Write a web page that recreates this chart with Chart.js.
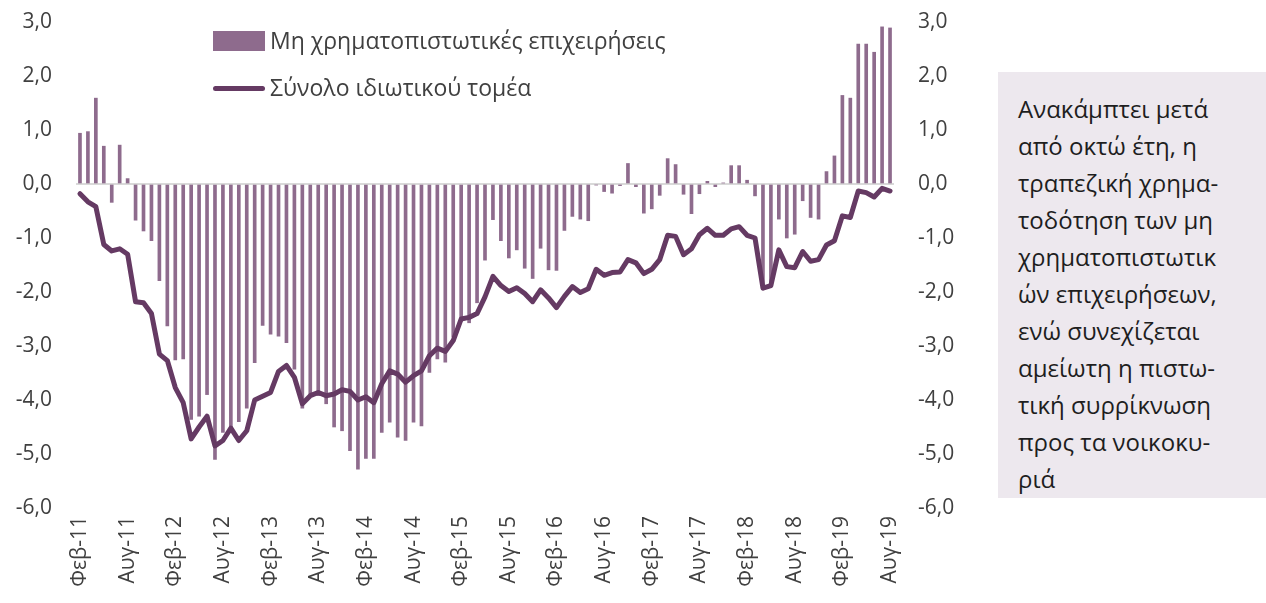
<!DOCTYPE html>
<html>
<head>
<meta charset="utf-8">
<script src="https://cdn.jsdelivr.net/npm/chart.js@4"></script>
<style>
  body { margin: 0; background: #fff; font-family: "Open Sans", sans-serif; }
  #wrap { position: relative; width: 1266px; height: 603px; }
  #chartBox { position: absolute; left: 0; top: 0; width: 1000px; height: 603px; }
  .lg-swatch { position: absolute; left: 213px; width: 52px; }
  .lg-text { position: absolute; left: 270px; font-size: 23px; color: #404040; white-space: nowrap; }
  #note {
    position: absolute; left: 998px; top: 72px; width: 268px; height: 426px;
    background: #ede8ee; box-sizing: border-box; padding: 18px 0 0 20px;
    font-size: 24px; line-height: 37px; color: #1e1e1e;
  }
</style>
</head>
<body>
<div id="wrap">
  <div id="chartBox"><canvas id="chart"></canvas></div>

  <div class="lg-swatch" style="top:31px;height:20px;background:#8e6b8d;"></div>
  <div class="lg-text" style="top:24px;">Μη χρηματοπιστωτικές επιχειρήσεις</div>
  <div class="lg-swatch" style="top:86px;height:5px;border-radius:3px;background:#653a63;"></div>
  <div class="lg-text" style="top:71px;">Σύνολο ιδιωτικού τομέα</div>

  <div id="note">Ανακάμπτει μετά<br>από οκτώ έτη, η<br>τραπεζική χρημα-<br>τοδότηση των μη<br>χρηματοπιστωτικ<br>ών επιχειρήσεων,<br>ενώ συνεχίζεται<br>αμείωτη η πιστω-<br>τική συρρίκνωση<br>προς τα νοικοκυ-<br>ριά</div>
</div>

<script>
// monthly, Φεβ-11 .. Αυγ-19
var monthNames = ['Ιαν', 'Φεβ', 'Μαρ', 'Απρ', 'Μαϊ', 'Ιουν', 'Ιουλ', 'Αυγ', 'Σεπ', 'Οκτ', 'Νοε', 'Δεκ'];
var tickMonths = ['Φεβ', 'Αυγ'];
var yTicks = [3, 2, 1, 0, -1, -2, -3, -4, -5, -6];

// non-financial corporations (bars)
var nfcValues = [
  0.94, 0.97, 1.59, 0.70, -0.34, 0.72, 0.10, -0.67, -0.87, -1.05,
  -1.79, -2.63, -3.26, -3.24, -4.36, -4.30, -3.90, -5.10, -4.60, -4.50,
  -4.40, -4.15, -3.31, -2.62, -2.78, -2.82, -2.94, -3.43, -4.15, -3.90,
  -3.92, -4.07, -4.50, -4.57, -4.94, -5.28, -5.08, -5.08, -4.60, -4.41,
  -4.69, -4.75, -4.41, -4.48, -3.49, -3.24, -3.30, -2.83, -2.55, -2.57,
  -2.20, -1.41, -0.66, -1.05, -1.37, -1.22, -1.56, -1.75, -1.19, -1.59,
  -1.60, -0.86, -0.60, -0.65, -0.68, -0.02, -0.14, -0.17, -0.03, 0.38,
  -0.05, -0.54, -0.46, -0.21, 0.47, 0.36, -0.19, -0.55, -0.18, 0.05,
  -0.05, 0.02, 0.34, 0.34, 0.07, -0.22, -1.95, -1.90, -0.65, -1.00,
  -0.93, -0.31, -0.62, -0.65, 0.23, 0.52, 1.64, 1.59, 2.59, 2.59,
  2.44, 2.91, 2.89
];

// total private sector (line)
var privateValues = [
  -0.18, -0.33, -0.42, -1.12, -1.24, -1.20, -1.30, -2.18, -2.20, -2.40,
  -3.15, -3.27, -3.77, -4.05, -4.72, -4.50, -4.30, -4.85, -4.75, -4.52,
  -4.75, -4.57, -4.00, -3.93, -3.86, -3.47, -3.36, -3.58, -4.07, -3.92,
  -3.86, -3.92, -3.89, -3.81, -3.84, -4.00, -3.94, -4.05, -3.70, -3.46,
  -3.52, -3.67, -3.55, -3.46, -3.18, -3.04, -3.10, -2.90, -2.50, -2.47,
  -2.40, -2.09, -1.71, -1.88, -1.99, -1.92, -2.03, -2.18, -1.96, -2.11,
  -2.29, -2.08, -1.90, -2.01, -1.94, -1.58, -1.69, -1.64, -1.63, -1.40,
  -1.46, -1.66, -1.58, -1.40, -0.95, -0.97, -1.31, -1.20, -0.94, -0.82,
  -0.95, -0.95, -0.83, -0.79, -0.95, -1.00, -1.93, -1.88, -1.22, -1.53,
  -1.55, -1.25, -1.43, -1.40, -1.13, -1.05, -0.59, -0.62, -0.13, -0.16,
  -0.24, -0.08, -0.13
];

var labels = [];
for (var i = 0; i < nfcValues.length; i++) {
  var m = (1 + i) % 12;
  var y = 11 + Math.floor((1 + i) / 12);
  labels.push(monthNames[m] + '-' + y);
}

var tickFont = { family: 'Open Sans', size: 21 };
var fmt = function(v){ return v.toFixed(1).replace('.', ','); };

// fixed axis width, and no extra top/bottom padding from the tick labels
function fixWidth(w){
  return function(scale){
    scale.width = w;
    scale.paddingTop = 0;
    scale.paddingBottom = 0;
  };
}

new Chart(document.getElementById('chart'), {
  data: {
    labels: labels,
    datasets: [
      {
        type: 'line',
        data: privateValues,
        borderColor: '#653a63',
        borderWidth: 5,
        pointRadius: 0,
        tension: 0,
        borderJoinStyle: 'round',
        borderCapStyle: 'round',
        yAxisID: 'y',
        order: 0
      },
      {
        type: 'bar',
        data: nfcValues,
        backgroundColor: '#8e6b8d',
        barThickness: 3,
        yAxisID: 'y',
        order: 1
      }
    ]
  },
  options: {
    responsive: true,
    maintainAspectRatio: false,
    animation: false,
    layout: { padding: { top: 22, left: 0, right: 0, bottom: 0 } },
    plugins: { legend: { display: false }, tooltip: { enabled: false } },
    scales: {
      x: {
        offset: true,
        grid: { display: false, drawTicks: false },
        border: { display: false },
        ticks: {
          autoSkip: false,
          minRotation: 90,
          maxRotation: 90,
          padding: 8,
          color: '#404040',
          font: { family: 'Open Sans', size: 21 },
          callback: function(val, idx){
            var l = labels[idx];
            return tickMonths.indexOf(l.split('-')[0]) >= 0 ? l : '';
          }
        },
        afterFit: function(scale){ scale.height = 95; }
      },
      y: {
        position: 'left',
        min: yTicks[yTicks.length - 1],
        max: yTicks[0],
        border: { display: false },
        grid: {
          drawTicks: false,
          lineWidth: 2,
          color: function(ctx){ return ctx.tick && ctx.tick.value === 0 ? '#d9d9d9' : 'rgba(0,0,0,0)'; }
        },
        ticks: { stepSize: 1, padding: 24, color: '#404040', font: tickFont, callback: fmt },
        afterFit: fixWidth(76)
      },
      y2: {
        position: 'right',
        min: yTicks[yTicks.length - 1],
        max: yTicks[0],
        border: { display: false },
        grid: { display: false, drawTicks: false },
        ticks: { stepSize: 1, padding: 24, color: '#404040', font: tickFont, callback: fmt },
        afterFit: fixWidth(106)
      }
    }
  }
});
</script>
</body>
</html>
